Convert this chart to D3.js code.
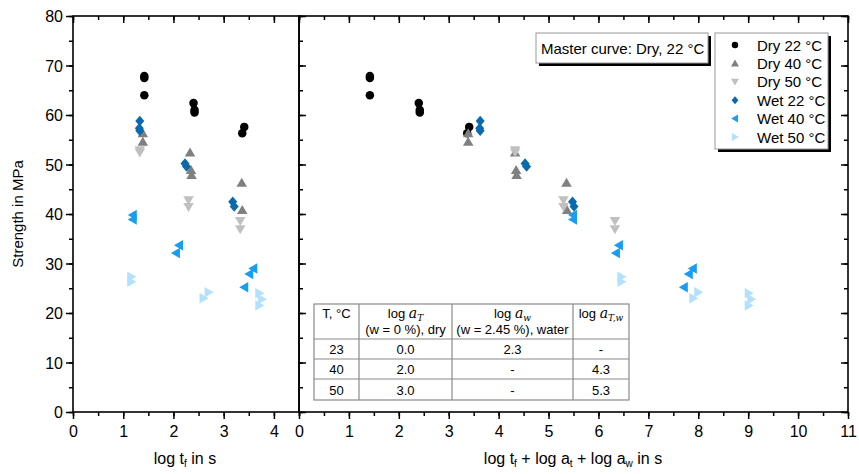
<!DOCTYPE html>
<html>
<head>
<meta charset="utf-8">
<script src="https://cdn.jsdelivr.net/npm/d3@7"></script>
<style>
  body { margin: 0; background: #fff; }
  svg { font-family: "Liberation Sans", Arial, sans-serif; }
</style>
</head>
<body>
<svg id="chart" width="859" height="474"></svg>
<script>
// series names, colours and marker shapes
let seriesNames = ["Dry 22 °C", "Dry 40 °C", "Dry 50 °C", "Wet 22 °C", "Wet 40 °C", "Wet 50 °C"];
let seriesColors = ["#000000", "#808080", "#c0c0c0", "#0b69ad", "#179ef2", "#b3e0fd"];
let seriesShapes = ["circle", "up", "down", "diamond", "left", "right"];

// log t_f (s) and strength (MPa)
let dry22X = [1.42, 1.42, 1.42, 2.40, 2.42, 2.42, 3.41, 3.37];
let dry22Y = [67.9, 67.5, 64.0, 62.4, 61.0, 60.5, 57.6, 56.3];
let dry40X = [1.39, 1.39, 2.33, 2.35, 2.36, 3.36, 3.37];
let dry40Y = [56.3, 54.6, 52.4, 48.9, 47.9, 46.3, 40.8];
let dry50X = [1.33, 1.33, 2.30, 2.30, 3.33, 3.33];
let dry50Y = [52.9, 52.4, 42.8, 41.4, 38.6, 36.9];
let wet22X = [1.33, 1.32, 1.33, 2.23, 2.26, 3.18, 3.21];
let wet22Y = [58.8, 57.3, 56.8, 50.2, 49.6, 42.5, 41.5];
let wet40X = [1.19, 1.19, 2.11, 2.05, 3.59, 3.51, 3.41];
let wet40Y = [39.8, 38.9, 33.7, 32.1, 29.0, 27.9, 25.2];
let wet50X = [1.16, 1.16, 2.70, 2.60, 3.71, 3.76, 3.71];
let wet50Y = [27.3, 26.3, 24.2, 23.0, 24.0, 22.8, 21.5];

// shift factors (log a_T + log a_w) used for the master curve
let seriesShift = [0.0, 2.0, 3.0, 2.3, 4.3, 5.3];

// table contents
let tableHead1 = ["T, °C", "log a_T", "log a_w", "log a_T,w"];
let tableHead2 = ["", "(w = 0 %), dry", "(w = 2.45 %), water", ""];
let tableTemp = ["23", "40", "50"];
let tableLogAT = ["0.0", "2.0", "3.0"];
let tableLogAw = ["2.3", "-", "-"];
let tableLogATw = ["-", "4.3", "5.3"];

let leftTicks = [0, 1, 2, 3, 4];
let rightTicks = [0, 1, 2, 3, 4, 5, 6, 7, 8, 9, 10, 11];
let yTicks = [0, 10, 20, 30, 40, 50, 60, 70, 80];

let xsAll = [dry22X, dry40X, dry50X, wet22X, wet40X, wet50X];
let ysAll = [dry22Y, dry40Y, dry50Y, wet22Y, wet40Y, wet50Y];

function markerPath(shape, s) {
    let p = d3.path();
    if (shape == "circle") {
        p.arc(0, 0, s * 0.85, 0, 2 * Math.PI);
    } else if (shape == "diamond") {
        p.moveTo(0, -s * 1.05); p.lineTo(s * 0.9, 0); p.lineTo(0, s * 1.05); p.lineTo(-s * 0.9, 0);
    } else {
        let pts = [[0, -s], [s * 1.05, s * 0.8], [-s * 1.05, s * 0.8]];
        let rot = {up: 0, down: 180, left: -90, right: 90}[shape] * Math.PI / 180;
        pts = pts.map(q => [q[0] * Math.cos(rot) - q[1] * Math.sin(rot), q[0] * Math.sin(rot) + q[1] * Math.cos(rot)]);
        p.moveTo(pts[0][0], pts[0][1]); p.lineTo(pts[1][0], pts[1][1]); p.lineTo(pts[2][0], pts[2][1]);
    }
    p.closePath();
    return p.toString();
}

function createChart() {
    let svg = d3.select("#chart");
    let top = 16, bottom = 412;

    let y = d3.scaleLinear().domain([0, 80]).range([bottom, top]);
    let xL = d3.scaleLinear().domain([0, 4.5]).range([73, 299]);
    let xR = d3.scaleLinear().domain([0, 11]).range([299, 848]);

    let fs = "16px";

    // minor + major ticks
    function ticks(g, axis, vals, size, labels) {
        g.call(axis.tickValues(vals).tickSize(size).tickFormat(labels ? d3.format("d") : ""));
        g.select(".domain").remove();
        g.selectAll("line").attr("stroke", "#000").attr("stroke-width", 1.5);
        g.selectAll("text").attr("font-size", fs).attr("fill", "#000").attr("font-family", "Liberation Sans, Arial, sans-serif");
    }
    let halfL = d3.range(0, 4.51, 0.5), halfR = d3.range(0, 11.01, 0.5), fiveY = d3.range(0, 80.1, 5);

    // left panel
    ticks(svg.append("g").attr("transform", `translate(0,${bottom})`), d3.axisBottom(xL), halfL, 4, false);
    ticks(svg.append("g").attr("transform", `translate(0,${bottom})`), d3.axisBottom(xL), leftTicks, 7, true);
    ticks(svg.append("g").attr("transform", `translate(0,${top})`), d3.axisTop(xL), halfL, -4, false);
    ticks(svg.append("g").attr("transform", `translate(0,${top})`), d3.axisTop(xL), leftTicks, -7, false);
    ticks(svg.append("g").attr("transform", "translate(73,0)"), d3.axisLeft(y), fiveY, 4, false);
    ticks(svg.append("g").attr("transform", "translate(73,0)"), d3.axisLeft(y), yTicks, 7, true);
    ticks(svg.append("g").attr("transform", "translate(299,0)"), d3.axisRight(y), fiveY, 4, false);
    ticks(svg.append("g").attr("transform", "translate(299,0)"), d3.axisRight(y), yTicks, 7, false);

    // right panel
    ticks(svg.append("g").attr("transform", `translate(0,${bottom})`), d3.axisBottom(xR), halfR, 4, false);
    ticks(svg.append("g").attr("transform", `translate(0,${bottom})`), d3.axisBottom(xR), rightTicks, 7, true);
    ticks(svg.append("g").attr("transform", `translate(0,${top})`), d3.axisTop(xR), halfR, -4, false);
    ticks(svg.append("g").attr("transform", `translate(0,${top})`), d3.axisTop(xR), rightTicks, -7, false);
    ticks(svg.append("g").attr("transform", "translate(848,0)"), d3.axisRight(y), fiveY, -4, false);
    ticks(svg.append("g").attr("transform", "translate(848,0)"), d3.axisRight(y), yTicks, -7, false);

    svg.selectAll(".tick text").attr("dy", "0.95em");
    svg.selectAll("g").filter(function() { return d3.select(this).selectAll("text").size() > 0 && this.getAttribute("transform") == "translate(73,0)"; })
        .selectAll("text").attr("dy", "0.35em").attr("x", -10);

    // frames
    svg.append("rect").attr("x", 73).attr("y", top).attr("width", 299 - 73).attr("height", bottom - top)
        .attr("fill", "none").attr("stroke", "#000").attr("stroke-width", 1.6);
    svg.append("rect").attr("x", 299).attr("y", top).attr("width", 848 - 299).attr("height", bottom - top)
        .attr("fill", "none").attr("stroke", "#000").attr("stroke-width", 1.6);

    // axis titles
    svg.append("text").attr("transform", "translate(23,214) rotate(-90)").attr("text-anchor", "middle")
        .attr("font-size", "15px").text("Strength in MPa");
    let t1 = svg.append("text").attr("x", 185).attr("y", 464).attr("text-anchor", "middle").attr("font-size", "16px");
    t1.append("tspan").text("log t");
    t1.append("tspan").attr("font-size", "10px").attr("dy", 3).text("f");
    t1.append("tspan").attr("dy", -3).text(" in s");
    let t2 = svg.append("text").attr("x", 573).attr("y", 464).attr("text-anchor", "middle").attr("font-size", "16px");
    t2.append("tspan").text("log t");
    t2.append("tspan").attr("font-size", "10px").attr("dy", 3).text("f");
    t2.append("tspan").attr("dy", -3).text(" + log a");
    t2.append("tspan").attr("font-size", "10px").attr("dy", 3).text("t");
    t2.append("tspan").attr("dy", -3).text(" + log a");
    t2.append("tspan").attr("font-size", "10px").attr("dy", 3).text("w");
    t2.append("tspan").attr("dy", -3).text(" in s");

    // table
    let tg = svg.append("g");
    let colX = [314, 359, 452, 573, 629];
    let rowY = [304, 339, 359, 379, 400];
    tg.append("rect").attr("x", colX[0]).attr("y", rowY[0]).attr("width", colX[4] - colX[0]).attr("height", rowY[4] - rowY[0])
        .attr("fill", "#fff").attr("stroke", "#8a8a8a").attr("stroke-width", 1.2);
    colX.slice(1, 4).forEach(cx => tg.append("line").attr("x1", cx).attr("x2", cx).attr("y1", rowY[0]).attr("y2", rowY[4])
        .attr("stroke", "#8a8a8a").attr("stroke-width", 1.2));
    rowY.slice(1, 4).forEach(ry => tg.append("line").attr("x1", colX[0]).attr("x2", colX[4]).attr("y1", ry).attr("y2", ry)
        .attr("stroke", "#8a8a8a").attr("stroke-width", 1.2));
    let cc = i => (colX[i] + colX[i + 1]) / 2;
    tableHead1.forEach((h, i) => {
        let t = tg.append("text").attr("x", cc(i)).attr("y", 318).attr("text-anchor", "middle").attr("font-size", "13px");
        if (h.startsWith("log a")) {
            let sub = h.split("_")[1];
            t.append("tspan").text("log ");
            t.append("tspan").attr("font-family", "DejaVu Serif, serif").attr("font-style", "italic").attr("font-size", "14px").text("a");
            t.append("tspan").attr("font-family", "DejaVu Serif, serif").attr("font-style", "italic").attr("font-size", "9px").attr("dy", 3).text(sub);
        } else {
            t.text(h);
        }
        if (tableHead2[i]) tg.append("text").attr("x", cc(i)).attr("y", 334).attr("text-anchor", "middle").attr("font-size", "13px").text(tableHead2[i]);
    });
    [tableTemp, tableLogAT, tableLogAw, tableLogATw].forEach((col, i) => {
        col.forEach((v, r) => tg.append("text").attr("x", cc(i)).attr("y", (rowY[r + 1] + rowY[r + 2]) / 2 + 5)
            .attr("text-anchor", "middle").attr("font-size", "13px").text(v));
    });

    // data points
    seriesNames.forEach((name, k) => {
        let pts = xsAll[k].map((v, j) => ({x: v, y: ysAll[k][j]}));
        let g = svg.append("g").attr("fill", seriesColors[k]);
        g.selectAll("path.l").data(pts).enter().append("path")
            .attr("transform", d => `translate(${xL(d.x)},${y(d.y)})`)
            .attr("d", markerPath(seriesShapes[k], 5));
        g.selectAll("path.r").data(pts).enter().append("path")
            .attr("transform", d => `translate(${xR(d.x + seriesShift[k])},${y(d.y)})`)
            .attr("d", markerPath(seriesShapes[k], 5));
    });

    // master curve label
    svg.append("rect").attr("x", 539).attr("y", 36).attr("width", 172).attr("height", 30).attr("fill", "#000");
    svg.append("rect").attr("x", 536).attr("y", 33).attr("width", 172).attr("height", 30)
        .attr("fill", "#fff").attr("stroke", "#999").attr("stroke-width", 1);
    svg.append("text").attr("x", 541).attr("y", 54).attr("font-size", "15px").text("Master curve: Dry, 22 °C");

    // legend
    svg.append("rect").attr("x", 718).attr("y", 36).attr("width", 113).attr("height", 116).attr("fill", "#000");
    svg.append("rect").attr("x", 715).attr("y", 33).attr("width", 113).attr("height", 116)
        .attr("fill", "#fff").attr("stroke", "#999").attr("stroke-width", 1);
    seriesNames.forEach((name, k) => {
        let ly = 45 + k * 18.4;
        svg.append("path").attr("transform", `translate(735,${ly})`).attr("d", markerPath(seriesShapes[k], 3.8))
            .attr("fill", seriesColors[k]);
        svg.append("text").attr("x", 757).attr("y", ly + 5.5).attr("font-size", "15px").text(name);
    });
}

window.onload = function() {
    createChart();
}
</script>
</body>
</html>
